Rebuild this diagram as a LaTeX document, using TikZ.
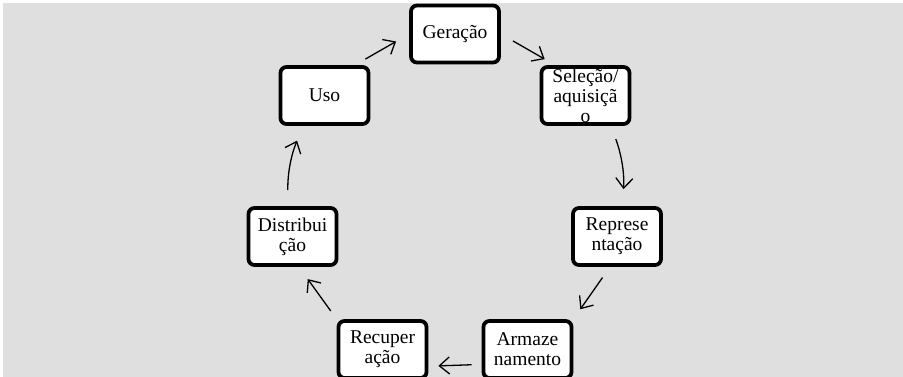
\documentclass[tikz,border=0pt]{standalone}
\usepackage{fontspec}
\setmainfont{Liberation Serif}
\usepackage{tikz}
\usetikzlibrary{arrows.meta, positioning}
\definecolor{bggray}{RGB}{223,223,223}

\begin{document}
\begin{tikzpicture}[x=1pt, y=-1pt,
  phase/.style={rectangle, rounded corners=6pt, draw=black, line width=3.8pt, fill=white, minimum width=88pt, minimum height=57pt, inner sep=0pt, align=center, font=\fontsize{19.5}{20}\selectfont},
  cycle/.style={-{Straight Barb[length=10pt, width=17pt]}, line width=1.3pt},
]
  \useasboundingbox (0,0) rectangle (903,377);
  \clip (0,0) rectangle (903,377);
  \fill[white] (0,0) rectangle (903,377);
  \fill[bggray] (3,3) rectangle (903,377);

  \node[phase] (ger) at (455,34) {Geração};
  \node[phase] (sel) at (585.5,95.5) {Seleção/\\aquisiçã\\o};
  \node[phase] (rep) at (617,236.5) {Represe\\ntação};
  \node[phase] (arm) at (527.5,349.5) {Armaze\\namento};
  \node[phase] (rec) at (382.5,349.5) {Recuper\\ação};
  \node[phase] (dist) at (292.5,236.5) {Distribui\\ção};
  \node[phase] (uso) at (324.5,95.5) {Uso};

  \draw[cycle, shorten <=12pt, shorten >=15pt] (uso.45) -- (ger.west);
  \draw[cycle, shorten <=14pt, shorten >=12pt] (ger.east) -- (sel.135);
  \draw[cycle, shorten <=14pt, shorten >=17pt] (sel.-50) to[bend left=12] (rep.80);
  \draw[cycle, shorten <=13pt, shorten >=12pt] (rep.257) -- (arm.north east);
  \draw[cycle, shorten <=10pt, shorten >=10pt] (arm.198) -- (rec.340);
  \draw[cycle, shorten <=10pt, shorten >=15pt] (rec.north west) -- (dist.282);
  \draw[cycle, shorten <=16pt, shorten >=16pt] (dist.98) to[bend left=12] (uso.235);
\end{tikzpicture}
\end{document}
